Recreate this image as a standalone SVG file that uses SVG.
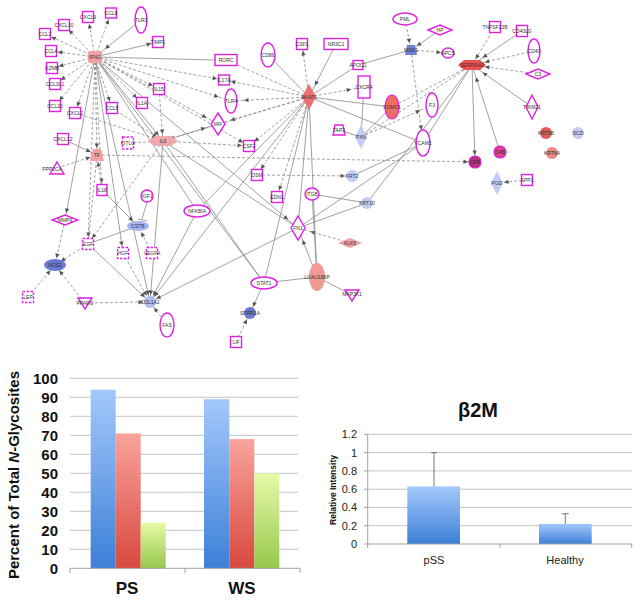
<svg xmlns="http://www.w3.org/2000/svg" width="640" height="602" viewBox="0 0 640 602">
<defs>
<style>
.e{stroke:#8a8a8a;stroke-width:.8;fill:none}
.d{stroke-dasharray:3 2}
.a{marker-end:url(#ah)}
.f{marker-end:url(#af)}
.m{fill:#fff;stroke:#e020e0;stroke-width:1.4}
.md{fill:#fff;stroke:#e020e0;stroke-width:1.4;stroke-dasharray:2.5 1.5}
.lb{font-family:"Liberation Sans",Arial,sans-serif;font-size:5px;fill:#333;text-anchor:middle}
.ax{font-family:"Liberation Sans",Arial,sans-serif;font-weight:bold;fill:#111}
.rt{font-family:"Liberation Sans",Arial,sans-serif;fill:#222}
.g{stroke:#c4c4c4;stroke-width:1}
</style>
<marker id="ah" markerUnits="userSpaceOnUse" markerWidth="6" markerHeight="6" refX="7" refY="0" orient="auto" style="overflow:visible"><path d="M0,0 L-4.5,-2.2 L-4.5,2.2z" fill="#555"/></marker>
<marker id="af" markerUnits="userSpaceOnUse" markerWidth="6" markerHeight="6" refX="13" refY="0" orient="auto" style="overflow:visible"><path d="M0,0 L-4.5,-2.2 L-4.5,2.2z" fill="#555"/></marker>
<linearGradient id="gb" x1="0" y1="0" x2="0" y2="1"><stop offset="0" stop-color="#a4c8fb"/><stop offset="1" stop-color="#3c80d8"/></linearGradient>
<linearGradient id="gr" x1="0" y1="0" x2="0" y2="1"><stop offset="0" stop-color="#f9a39c"/><stop offset="1" stop-color="#d8483e"/></linearGradient>
<linearGradient id="gg" x1="0" y1="0" x2="0" y2="1"><stop offset="0" stop-color="#e6faa8"/><stop offset="1" stop-color="#96c84c"/></linearGradient>
</defs>
<rect width="640" height="602" fill="#fff"/>

<g id="edges">
<!-- IFNG -->
<line class="e d a" x1="95" y1="57" x2="88" y2="17"/>
<line class="e d a" x1="95" y1="57" x2="111" y2="13"/>
<line class="e d a" x1="95" y1="57" x2="64" y2="25"/>
<line class="e d a" x1="95" y1="57" x2="45" y2="34"/>
<line class="e d a" x1="95" y1="57" x2="51" y2="51"/>
<line class="e d a" x1="95" y1="57" x2="52" y2="68"/>
<line class="e d a" x1="95" y1="57" x2="55" y2="84"/>
<line class="e d a" x1="95" y1="57" x2="55" y2="106"/>
<line class="e d a" x1="95" y1="57" x2="75" y2="113"/>
<line class="e d a" x1="95" y1="57" x2="112" y2="108"/>
<line class="e d a" x1="95" y1="57" x2="142" y2="103"/>
<line class="e d a" x1="95" y1="57" x2="159" y2="89"/>
<line class="e d a" x1="95" y1="57" x2="224" y2="80"/>
<line class="e d f" x1="95" y1="57" x2="231" y2="101"/>
<line class="e d f" x1="95" y1="57" x2="218" y2="124"/>
<line class="e d a" x1="95" y1="57" x2="97" y2="155"/>
<line class="e d a" x1="95" y1="57" x2="102" y2="190"/>
<line class="e d a" x1="95" y1="57" x2="88" y2="244"/>
<line class="e d a" x1="95" y1="57" x2="249" y2="146"/>
<line class="e f" x1="141" y1="20" x2="95" y2="57"/>
<line class="e a" x1="95" y1="57" x2="158" y2="42"/>
<line class="e" x1="95" y1="57" x2="215" y2="60"/>
<line class="e a" x1="95" y1="57" x2="163" y2="141"/>
<line class="e a" x1="95" y1="57" x2="65" y2="220"/>
<line class="e a" x1="95" y1="57" x2="123" y2="253"/>
<line class="e a" x1="95" y1="57" x2="150" y2="302"/>
<line class="e" x1="95" y1="57" x2="264" y2="283"/>
<line class="e f" x1="95" y1="57" x2="298" y2="228"/>
<line class="e" x1="95" y1="57" x2="197" y2="211"/>
<!-- AKAP hub -->
<line class="e d a" x1="309" y1="97" x2="226" y2="60"/>
<line class="e d a" x1="309" y1="97" x2="224" y2="80"/>
<line class="e d f" x1="309" y1="97" x2="231" y2="101"/>
<line class="e d f" x1="309" y1="97" x2="218" y2="124"/>
<line class="e d a" x1="309" y1="97" x2="249" y2="146"/>
<line class="e d a" x1="309" y1="97" x2="302" y2="44"/>
<line class="e d f" x1="309" y1="97" x2="364" y2="87"/>
<line class="e d a" x1="309" y1="97" x2="163" y2="141"/>
<line class="e d a" x1="309" y1="97" x2="277" y2="197"/>
<line class="e d a" x1="309" y1="97" x2="257" y2="175"/>
<line class="e" x1="268" y1="55" x2="309" y2="97"/>
<line class="e f" x1="336" y1="44" x2="309" y2="97"/>
<line class="e" x1="309" y1="97" x2="358" y2="65"/>
<line class="e" x1="309" y1="97" x2="392" y2="107"/>
<line class="e" x1="309" y1="97" x2="423" y2="143"/>
<line class="e a" x1="309" y1="97" x2="150" y2="302"/>
<line class="e" x1="309" y1="97" x2="298" y2="228"/>
<line class="e" x1="309" y1="97" x2="317" y2="277"/>
<line class="e" x1="309" y1="97" x2="197" y2="211"/>
<line class="e" x1="309" y1="97" x2="264" y2="283"/>
<!-- right hub -->
<line class="e d a" x1="495" y1="27" x2="472" y2="65"/>
<line class="e d f" x1="534" y1="51" x2="472" y2="65"/>
<line class="e d f" x1="538" y1="74" x2="472" y2="65"/>
<line class="e d" x1="472" y1="65" x2="392" y2="107"/>
<line class="e d" x1="361" y1="137" x2="472" y2="65"/>
<line class="e f" x1="522" y1="31" x2="472" y2="65"/>
<line class="e f" x1="532" y1="107" x2="472" y2="65"/>
<line class="e a" x1="472" y1="65" x2="475" y2="162"/>
<line class="e f" x1="500" y1="152" x2="472" y2="65"/>
<line class="e" x1="472" y1="65" x2="423" y2="143"/>
<line class="e" x1="472" y1="65" x2="367" y2="203"/>
<!-- trapezoid -->
<line class="e d a" x1="405" y1="19" x2="411" y2="50"/>
<line class="e a" x1="440" y1="30" x2="411" y2="50"/>
<line class="e d a" x1="411" y1="50" x2="448" y2="53"/>
<line class="e d f" x1="411" y1="50" x2="423" y2="143"/>
<line class="e" x1="358" y1="65" x2="411" y2="50"/>
<!-- PXN -->
<line class="e" x1="364" y1="87" x2="361" y2="137"/>
<line class="e" x1="339" y1="130" x2="361" y2="137"/>
<line class="e" x1="361" y1="137" x2="392" y2="107"/>
<line class="e d f" x1="361" y1="137" x2="432" y2="105"/>
<!-- long dashed -->
<line class="e d a" x1="97" y1="155" x2="475" y2="162"/>
<line class="e d a" x1="163" y1="141" x2="249" y2="146"/>
<line class="e d a" x1="257" y1="175" x2="352" y2="176"/>
<!-- IL6 / TF area -->
<line class="e d a" x1="128" y1="143" x2="163" y2="141"/>
<line class="e d a" x1="159" y1="89" x2="163" y2="141"/>
<line class="e d a" x1="112" y1="108" x2="163" y2="141"/>
<line class="e d a" x1="75" y1="113" x2="163" y2="141"/>
<line class="e f" x1="163" y1="141" x2="218" y2="124"/>
<line class="e" x1="163" y1="141" x2="298" y2="228"/>
<line class="e" x1="163" y1="141" x2="264" y2="283"/>
<line class="e a" x1="163" y1="141" x2="150" y2="302"/>
<line class="e d a" x1="163" y1="141" x2="88" y2="244"/>
<line class="e a" x1="63" y1="139" x2="97" y2="155"/>
<line class="e d a" x1="57" y1="168" x2="97" y2="155"/>
<line class="e d a" x1="102" y1="190" x2="97" y2="155"/>
<line class="e d" x1="97" y1="155" x2="88" y2="244"/>
<line class="e a" x1="102" y1="190" x2="138" y2="226"/>
<line class="e" x1="147" y1="202" x2="142" y2="219"/>
<line class="e" x1="138" y1="219" x2="147" y2="221" stroke-width="1"/>
<line class="e d a" x1="152" y1="253" x2="138" y2="226"/>
<line class="e" x1="88" y1="244" x2="138" y2="226"/>
<line class="e d a" x1="88" y1="244" x2="55" y2="265"/>
<line class="e d a" x1="65" y1="220" x2="55" y2="265"/>
<line class="e d a" x1="28" y1="297" x2="55" y2="265"/>
<line class="e d a" x1="85" y1="303" x2="55" y2="265"/>
<line class="e d a" x1="85" y1="303" x2="150" y2="302"/>
<line class="e a" x1="88" y1="244" x2="150" y2="302"/>
<line class="e d a" x1="123" y1="253" x2="150" y2="302"/>
<line class="e d a" x1="167" y1="325" x2="150" y2="302"/>
<line class="e a" x1="197" y1="211" x2="150" y2="302"/>
<line class="e a" x1="298" y1="228" x2="150" y2="302"/>
<!-- FN1 / LGALS3BP -->
<line class="e d f" x1="350" y1="243" x2="298" y2="228"/>
<line class="e f" x1="317" y1="277" x2="298" y2="228"/>
<line class="e" x1="317" y1="277" x2="264" y2="283"/>
<line class="e" x1="317" y1="277" x2="352" y2="295"/>
<line class="e" x1="317" y1="277" x2="312" y2="194"/>
<line class="e a" x1="264" y1="283" x2="250" y2="313"/>
<line class="e d a" x1="236" y1="342" x2="250" y2="313"/>
<line class="e" x1="352" y1="176" x2="423" y2="143"/>
<line class="e" x1="298" y1="228" x2="423" y2="143"/>
<line class="e" x1="298" y1="228" x2="367" y2="203"/>
<line class="e" x1="312" y1="194" x2="367" y2="203"/>
<line class="e d a" x1="527" y1="180" x2="497" y2="183"/>
</g>

<g id="n-IFNG"><rect x="88" y="51" width="14" height="12" rx="2" fill="#f2a0a0"/><text class="lb" x="95" y="59">IFNG</text></g>
<g id="n-CXCL9"><rect class="m" x="82.5" y="11.5" width="11" height="11"/><text class="lb" x="88" y="19">CXCL9</text></g>
<g id="n-CCL8"><rect class="m" x="105.5" y="8" width="11" height="10"/><text class="lb" x="111" y="15">CCL8</text></g>
<g id="n-TLR3"><ellipse class="m" cx="141" cy="20" rx="6" ry="13"/><text class="lb" x="141" y="22">TLR3</text></g>
<g id="n-TIMP1"><rect class="m" x="152.5" y="36.5" width="11" height="11"/><text class="lb" x="158" y="44">TIMP1</text></g>
<g id="n-CXCL10"><rect class="m" x="58.5" y="19.5" width="11" height="11"/><text class="lb" x="64" y="27">CXCL10</text></g>
<g id="n-CCL2"><rect class="m" x="39.5" y="28.5" width="11" height="11"/><text class="lb" x="45" y="36">CCL2</text></g>
<g id="n-CCL4"><rect class="m" x="45.5" y="45.5" width="11" height="11"/><text class="lb" x="51" y="53">CCL4</text></g>
<g id="n-GZMB"><rect class="m" x="46.5" y="62.5" width="11" height="11"/><text class="lb" x="52" y="70">GZMB</text></g>
<g id="n-CCL3L1"><rect class="m" x="49.5" y="78.5" width="11" height="11"/><text class="lb" x="55" y="86">CCL3L1</text></g>
<g id="n-CCL20"><rect class="m" x="49.5" y="100.5" width="11" height="11"/><text class="lb" x="55" y="108">CCL20</text></g>
<g id="n-CXCL2"><rect class="m" x="69.5" y="107.5" width="11" height="11"/><text class="lb" x="75" y="115">CXCL2</text></g>
<g id="n-CCL5"><rect class="m" x="106.5" y="102.5" width="11" height="11"/><text class="lb" x="112" y="110">CCL5</text></g>
<g id="n-IL1A"><rect class="m" x="136.5" y="97.5" width="11" height="11"/><text class="lb" x="142" y="105">IL1A</text></g>
<g id="n-IL15"><rect class="m" x="153.5" y="83.5" width="11" height="11"/><text class="lb" x="159" y="91">IL15</text></g>
<g id="n-CXCL12"><rect class="m" x="57.5" y="133.5" width="11" height="11"/><text class="lb" x="63" y="141">CXCL12</text></g>
<g id="n-KITLG"><rect class="md" x="122.5" y="137" width="11" height="12"/><text class="lb" x="128" y="145">KITLG</text></g>
<g id="n-IL6"><polygon points="148,141 155,136 171,136 178,141 171,146 155,146" fill="#f2a8a8"/><text class="lb" x="163" y="143">IL6</text></g>
<g id="n-TF"><polygon points="93,149 101,149 104,161 90,161" fill="#f0a0a0"/><text class="lb" x="97" y="157">TF</text></g>
<g id="n-PPP2CA"><polygon class="m" points="57,162 64,174 50,174"/><text class="lb" x="52" y="171">PPP2CA</text></g>
<g id="n-IL18"><rect class="m" x="97" y="184.5" width="10" height="11"/><text class="lb" x="102" y="192">IL18</text></g>
<g id="n-IGF1"><circle class="m" cx="147" cy="196" r="6"/><text class="lb" x="147" y="198">IGF1</text></g>
<g id="n-CSTB"><ellipse cx="138" cy="226" rx="11" ry="5" fill="#a8b4ee"/><text class="lb" x="138" y="228">CSTB</text></g>
<g id="n-NFKBIA"><ellipse class="m" cx="197" cy="211" rx="13" ry="6"/><text class="lb" x="197" y="213">NFKBIA</text></g>
<g id="n-MMP9"><polygon class="m" points="52,220 65,215 78,220 65,225"/><text class="lb" x="65" y="222">MMP9</text></g>
<g id="n-EGF"><rect class="md" x="82.5" y="238.5" width="11" height="11"/><text class="lb" x="88" y="246">EGF</text></g>
<g id="n-HGF"><rect class="md" x="117.5" y="247.5" width="11" height="11"/><text class="lb" x="123" y="255">HGF</text></g>
<g id="n-VEGFA"><rect class="md" x="146.5" y="247.5" width="11" height="11"/><text class="lb" x="152" y="255">VEGFA</text></g>
<g id="n-NOS2"><ellipse cx="55" cy="265" rx="11" ry="6" fill="#6a78d8"/><text class="lb" x="55" y="267">NOS2</text></g>
<g id="n-LEP"><rect class="md" x="22.5" y="291.5" width="11" height="11"/><text class="lb" x="28" y="299">LEP</text></g>
<g id="n-PPARG"><polygon class="m" points="78,298 92,298 85,309"/><text class="lb" x="85" y="305">PPARG</text></g>
<g id="n-COL1A2"><circle cx="150" cy="302" r="6" fill="#b0bcf0"/><text class="lb" x="150" y="304">COL1A2</text></g>
<g id="n-FAS"><ellipse class="m" cx="167" cy="325" rx="7" ry="12"/><text class="lb" x="167" y="327">FAS</text></g>
<g id="n-RORC"><rect class="m" x="215" y="54.5" width="22" height="11"/><text class="lb" x="226" y="62">RORC</text></g>
<g id="n-IL17A"><rect class="m" x="218.5" y="75" width="11" height="10"/><text class="lb" x="224" y="82">IL17A</text></g>
<g id="n-TLR4"><ellipse class="m" cx="231" cy="101" rx="6" ry="12"/><text class="lb" x="231" y="103">TLR4</text></g>
<g id="n-MIF"><polygon class="m" points="218,113 225,124 218,135 211,124"/><text class="lb" x="218" y="126">MIF</text></g>
<g id="n-CD86"><ellipse class="m" cx="268" cy="55" rx="7" ry="12"/><text class="lb" x="268" y="57">CD86</text></g>
<g id="n-CSF1"><rect class="m" x="296.5" y="38.5" width="11" height="11"/><text class="lb" x="302" y="46">CSF1</text></g>
<g id="n-NR3C1"><rect class="m" x="324" y="38.5" width="24" height="11"/><text class="lb" x="336" y="46">NR3C1</text></g>
<g id="n-AKAP1"><polygon points="309,84 316,97 309,110 302,97" fill="#f07070"/><text class="lb" x="309" y="99">AKAP1</text></g>
<g id="n-APOC1"><rect class="m" x="353" y="60.5" width="10" height="9"/><text class="lb" x="358" y="67">APOC1</text></g>
<g id="n-CXCR4"><rect class="m" x="358" y="76" width="12" height="22"/><text class="lb" x="364" y="89">CXCR4</text></g>
<g id="n-SUMO1"><ellipse cx="392" cy="107" rx="7" ry="12" fill="#ef6e62" stroke="#e020e0" stroke-width="1.2"/><text class="lb" x="392" y="109">SUMO1</text></g>
<g id="n-TAP2"><polygon class="m" points="335,125 343,125 345,135 333,135"/><text class="lb" x="339" y="132">TAP2</text></g>
<g id="n-PXN"><polygon points="361,125 367,137 361,149 355,137" fill="#c4ccf4"/><text class="lb" x="361" y="139">PXN</text></g>
<g id="n-CSF2"><rect class="m" x="243.5" y="140.5" width="11" height="11"/><text class="lb" x="249" y="148">CSF2</text></g>
<g id="n-OSM"><rect class="m" x="251.5" y="169.5" width="11" height="11"/><text class="lb" x="257" y="177">OSM</text></g>
<g id="n-EDN1"><rect class="m" x="271.5" y="191.5" width="11" height="11"/><text class="lb" x="277" y="199">EDN1</text></g>
<g id="n-ITGB"><ellipse class="m" cx="312" cy="194" rx="7" ry="6"/><text class="lb" x="312" y="196">ITGB</text></g>
<g id="n-KRT2"><circle cx="352" cy="176" r="6" fill="#c4ccf4"/><text class="lb" x="352" y="178">KRT2</text></g>
<g id="n-KRT10"><circle cx="367" cy="203" r="6" fill="#c4ccf4"/><text class="lb" x="367" y="205">KRT10</text></g>
<g id="n-FN1"><polygon class="m" points="298,216 305,228 298,240 291,228"/><text class="lb" x="298" y="230">FN1</text></g>
<g id="n-KLK5"><polygon points="338,243 350,238 362,243 350,248" fill="#f0a0a0"/><text class="lb" x="350" y="245">KLK5</text></g>
<g id="n-LGALS3BP"><ellipse cx="317" cy="277" rx="8" ry="14" fill="#f09a94"/><text class="lb" x="317" y="279">LGALS3BP</text></g>
<g id="n-STAT1"><ellipse class="m" cx="264" cy="283" rx="13" ry="6"/><text class="lb" x="264" y="285">STAT1</text></g>
<g id="n-MAP3K1"><polygon class="m" points="345,290 359,290 352,301"/><text class="lb" x="352" y="296">MAP3K1</text></g>
<g id="n-SPRR1A"><circle cx="250" cy="313" r="6" fill="#6a78d8"/><text class="lb" x="250" y="315">SPRR1A</text></g>
<g id="n-LIF"><rect class="m" x="230.5" y="336.5" width="11" height="11"/><text class="lb" x="236" y="344">LIF</text></g>
<g id="n-PML"><ellipse class="m" cx="405" cy="19" rx="12" ry="6"/><text class="lb" x="405" y="21">PML</text></g>
<g id="n-HP"><polygon class="m" points="428,30 440,25 452,30 440,35"/><text class="lb" x="440" y="32">HP</text></g>
<g id="n-MSR1"><polygon points="407,45 415,45 417,55 405,55" fill="#7080d8"/><text class="lb" x="411" y="52">MSR1</text></g>
<g id="n-APCS"><ellipse class="m" cx="448" cy="53" rx="6" ry="5"/><text class="lb" x="448" y="55">APCS</text></g>
<g id="n-TNFSF13B"><rect class="m" x="489.5" y="21.5" width="11" height="11"/><text class="lb" x="495" y="29">TNFSF13B</text></g>
<g id="n-CD40LG"><rect class="m" x="516.5" y="25.5" width="11" height="11"/><text class="lb" x="522" y="33">CD40LG</text></g>
<g id="n-CD40"><ellipse class="m" cx="534" cy="51" rx="6" ry="12"/><text class="lb" x="534" y="53">CD40</text></g>
<g id="n-SERPINA1"><polygon points="458,65 464,60 480,60 486,65 480,70 464,70" fill="#ee5050"/><text class="lb" x="472" y="67">SERPINA1</text></g>
<g id="n-C3"><polygon class="m" points="526,74 538,69 550,74 538,79"/><text class="lb" x="538" y="76">C3</text></g>
<g id="n-TRIM21"><polygon class="m" points="532,95 538,107 532,119 526,107"/><text class="lb" x="532" y="109">TRIM21</text></g>
<g id="n-F3"><ellipse class="m" cx="432" cy="105" rx="6" ry="12"/><text class="lb" x="432" y="107">F3</text></g>
<g id="n-VCAM1"><ellipse class="m" cx="423" cy="143" rx="7" ry="13"/><text class="lb" x="423" y="145">VCAM1</text></g>
<g id="n-CFB"><circle cx="475" cy="162" r="6" fill="#b8307a" stroke="#d020d0" stroke-width="1.2"/><text class="lb" x="475" y="164">CFB</text></g>
<g id="n-C4B"><circle cx="500" cy="152" r="6" fill="#e0408a" stroke="#d020d0" stroke-width="1.2"/><text class="lb" x="500" y="154">C4B</text></g>
<g id="n-KRT6B"><circle cx="546" cy="133" r="6" fill="#e05a52"/><text class="lb" x="546" y="135">KRT6B</text></g>
<g id="n-SCD"><circle cx="578" cy="133" r="6" fill="#c4ccf4"/><text class="lb" x="578" y="135">SCD</text></g>
<g id="n-KRT6A"><circle cx="552" cy="153" r="6" fill="#ec8a80"/><text class="lb" x="552" y="155">KRT6A</text></g>
<g id="n-PGD"><polygon points="497,171 503,183 497,195 491,183" fill="#c4ccf4"/><text class="lb" x="497" y="185">PGD</text></g>
<g id="n-SPP1"><rect class="m" x="521.5" y="174.5" width="11" height="11"/><text class="lb" x="527" y="182">SPP1</text></g>

<g id="chart-glycosites">
<line class="g" x1="70" y1="378.3" x2="298" y2="378.3"/>
<line class="g" x1="70" y1="397.3" x2="298" y2="397.3"/>
<line class="g" x1="70" y1="416.3" x2="298" y2="416.3"/>
<line class="g" x1="70" y1="435.3" x2="298" y2="435.3"/>
<line class="g" x1="70" y1="454.3" x2="298" y2="454.3"/>
<line class="g" x1="70" y1="473.3" x2="298" y2="473.3"/>
<line class="g" x1="70" y1="492.3" x2="298" y2="492.3"/>
<line class="g" x1="70" y1="511.3" x2="298" y2="511.3"/>
<line class="g" x1="70" y1="530.3" x2="298" y2="530.3"/>
<line class="g" x1="70" y1="549.3" x2="298" y2="549.3"/>
<rect x="90.7" y="389.7" width="25" height="178.6" fill="url(#gb)"/>
<rect x="115.7" y="433.4" width="25" height="134.9" fill="url(#gr)"/>
<rect x="140.7" y="522.7" width="25" height="45.6" fill="url(#gg)"/>
<rect x="204" y="399.2" width="25.3" height="169.1" fill="url(#gb)"/>
<rect x="229.3" y="439.1" width="25" height="129.2" fill="url(#gr)"/>
<rect x="254.3" y="473.3" width="25" height="95" fill="url(#gg)"/>
<line x1="70" y1="568.3" x2="300" y2="568.3" stroke="#a0a0a0" stroke-width="1"/>
<line x1="70" y1="568.3" x2="70" y2="573" stroke="#a0a0a0"/>
<line x1="185" y1="568.3" x2="185" y2="573" stroke="#a0a0a0"/>
<line x1="300" y1="568.3" x2="300" y2="573" stroke="#a0a0a0"/>
<g class="ax" font-size="15" text-anchor="end">
<text x="58" y="383.6">100</text><text x="58" y="402.6">90</text><text x="58" y="421.6">80</text><text x="58" y="440.6">70</text><text x="58" y="459.6">60</text><text x="58" y="478.6">50</text><text x="58" y="497.6">40</text><text x="58" y="516.6">30</text><text x="58" y="535.6">20</text><text x="58" y="554.6">10</text><text x="58" y="573.6">0</text>
</g>
<text class="ax" font-size="15" text-anchor="middle" transform="translate(19,475) rotate(-90)">Percent of Total <tspan font-style="italic">N</tspan>-Glycosites</text>
<text class="ax" font-size="17" x="127" y="594" text-anchor="middle">PS</text>
<text class="ax" font-size="17" x="242" y="594" text-anchor="middle">WS</text>
</g>

<g id="chart-b2m">
<text class="ax" font-size="20" x="478" y="417" text-anchor="middle">β2M</text>
<line class="g" x1="368" y1="434.3" x2="632" y2="434.3"/>
<line class="g" x1="368" y1="452.6" x2="632" y2="452.6"/>
<line class="g" x1="368" y1="470.9" x2="632" y2="470.9"/>
<line class="g" x1="368" y1="489.2" x2="632" y2="489.2"/>
<line class="g" x1="368" y1="507.4" x2="632" y2="507.4"/>
<line class="g" x1="368" y1="525.7" x2="632" y2="525.7"/>
<line x1="367.7" y1="434.3" x2="367.7" y2="544" stroke="#a0a0a0"/>
<line x1="364" y1="434.3" x2="367.7" y2="434.3" stroke="#a0a0a0"/>
<line x1="364" y1="452.6" x2="367.7" y2="452.6" stroke="#a0a0a0"/>
<line x1="364" y1="470.9" x2="367.7" y2="470.9" stroke="#a0a0a0"/>
<line x1="364" y1="489.2" x2="367.7" y2="489.2" stroke="#a0a0a0"/>
<line x1="364" y1="507.4" x2="367.7" y2="507.4" stroke="#a0a0a0"/>
<line x1="364" y1="525.7" x2="367.7" y2="525.7" stroke="#a0a0a0"/>
<rect x="407.3" y="486.4" width="52.7" height="57.6" fill="url(#gb)"/>
<rect x="539" y="523.9" width="52.7" height="20.1" fill="url(#gb)"/>
<line x1="434" y1="486.4" x2="434" y2="452.6" stroke="#666" stroke-width="0.9"/>
<line x1="431" y1="452.6" x2="437" y2="452.6" stroke="#666" stroke-width="0.9"/>
<line x1="565.3" y1="523.9" x2="565.3" y2="513.8" stroke="#666" stroke-width="0.9"/>
<line x1="561.8" y1="513.8" x2="568.8" y2="513.8" stroke="#666" stroke-width="0.9"/>
<line x1="364" y1="544" x2="632" y2="544" stroke="#a0a0a0"/>
<line x1="367.7" y1="544" x2="367.7" y2="548" stroke="#a0a0a0"/>
<line x1="500" y1="544" x2="500" y2="548" stroke="#a0a0a0"/>
<line x1="631.7" y1="544" x2="631.7" y2="548" stroke="#a0a0a0"/>
<g class="rt" font-size="11" text-anchor="end">
<text x="357" y="438.3">1.2</text><text x="357" y="456.6">1</text><text x="357" y="474.9">0.8</text><text x="357" y="493.2">0.6</text><text x="357" y="511.4">0.4</text><text x="357" y="529.7">0.2</text><text x="357" y="548">0</text>
</g>
<text class="ax" font-size="8.5" text-anchor="middle" transform="translate(336,490) rotate(-90)">Relative Intensity</text>
<text class="rt" font-size="11" x="434" y="564" text-anchor="middle">pSS</text>
<text class="rt" font-size="11" x="565" y="564" text-anchor="middle">Healthy</text>
</g>
</svg>
